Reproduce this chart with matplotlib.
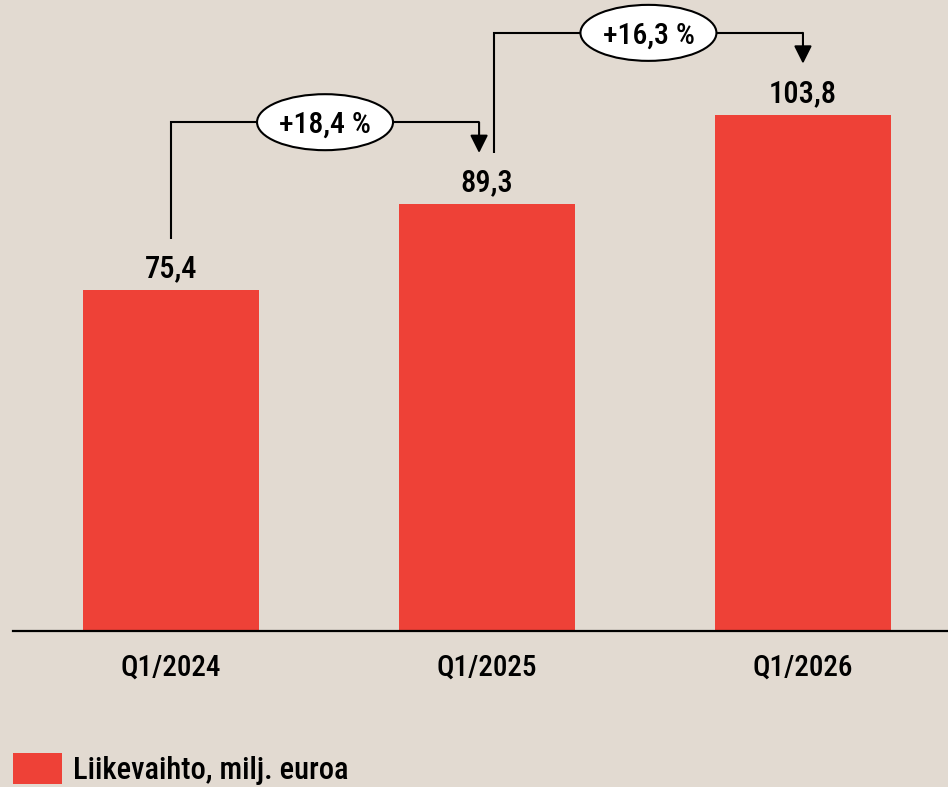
import matplotlib
matplotlib.use("Agg")
import matplotlib.pyplot as plt
from matplotlib import font_manager
from matplotlib.patches import Ellipse

# ---- data ----
categories = ["Q1/2024", "Q1/2025", "Q1/2026"]
values = [75.4, 89.3, 103.8]
value_labels = ["75,4", "89,3", "103,8"]
growth_labels = ["+18,4 %", "+16,3 %"]
series_name = "Liikevaihto, milj. euroa"

# ---- style ----
BG = "#E2DAD1"
RED = "#EE4137"

names = {f.name for f in font_manager.fontManager.ttflist}
font_kw = {}
for cand in ["Roboto Condensed", "Liberation Sans Narrow", "Open Sans Condensed"]:
    if cand in names:
        font_kw = {"family": [cand, "DejaVu Sans"]}
        break
else:
    cond = [f for f in font_manager.fontManager.ttflist
            if f.name == "DejaVu Sans" and "condensed" in str(f.stretch)]
    if cond:
        font_kw = {"family": ["DejaVu Sans"], "stretch": "condensed"}
    else:
        font_kw = {"family": ["Roboto", "DejaVu Sans"]}
font_kw["weight"] = "medium"

W, H = 948, 787
fig = plt.figure(figsize=(W / 100, H / 100), dpi=100, facecolor=BG)
ax = fig.add_axes([13 / W, (H - 631) / H, (W - 13) / W, 631 / H])
ax.set_facecolor(BG)

x = list(range(len(categories)))
bars = ax.bar(x, values, width=0.557, color=RED, label=series_name, zorder=2)

ax.set_xlim(-0.5, 2.459)
ax.set_ylim(20, 20 + 631 / 6.16)

for s in ["top", "right", "left"]:
    ax.spines[s].set_visible(False)
ax.spines["bottom"].set_linewidth(1.6)
ax.spines["bottom"].set_color("black")
ax.spines["bottom"].set_zorder(3)
ax.set_yticks([])
ax.set_xticks(x)
ax.set_xticklabels(categories, fontsize=21, color="black", **font_kw)
ax.tick_params(axis="x", length=0, pad=16)

# value labels
for xi, v, lab in zip(x, values, value_labels):
    ax.annotate(lab, xy=(xi, v), xytext=(0, 9), textcoords="offset points",
                ha="center", va="baseline", fontsize=22, color="black", **font_kw)

# growth connectors
lift = 8.3
bracket = 13.3
off_out = 0.022
off_in = 0.025
n = len(values)
for i in range(n - 1):
    x0 = x[i] + (off_out if i > 0 else 0)
    x1 = x[i + 1] - (off_in if i + 1 < n - 1 else 0)
    y0 = values[i] + lift
    yb = values[i + 1] + bracket
    y1 = values[i + 1] + lift
    ax.plot([x0, x0, x1], [y0, yb, yb], color="black", lw=1.5,
            solid_capstyle="butt", solid_joinstyle="miter", zorder=3)
    ax.annotate("", xy=(x1, y1), xytext=(x1, yb),
                arrowprops=dict(arrowstyle="-|>,head_length=1.0,head_width=0.5",
                                mutation_scale=10.8, lw=1.5, color="black",
                                shrinkA=0, shrinkB=0), zorder=3)
    xm = (x0 + x1) / 2
    ell = Ellipse((xm, yb), width=136 / 316, height=56 / 6.16,
                  facecolor="white", edgecolor="black", lw=1.5, zorder=4)
    ax.add_patch(ell)
    ax.text(xm, yb, growth_labels[i], ha="center", va="center_baseline",
            fontsize=21.5, color="black", zorder=5, **font_kw)

leg = fig.legend(handles=[bars], labels=[series_name], loc="lower left",
                 bbox_to_anchor=(13 / W, 2 / H), frameon=False, borderpad=0,
                 borderaxespad=0, handlelength=1.6, handleheight=1.2,
                 handletextpad=0.36,
                 prop=font_manager.FontProperties(size=22, **font_kw))

fig.savefig("out.png", dpi=100, facecolor=BG)
